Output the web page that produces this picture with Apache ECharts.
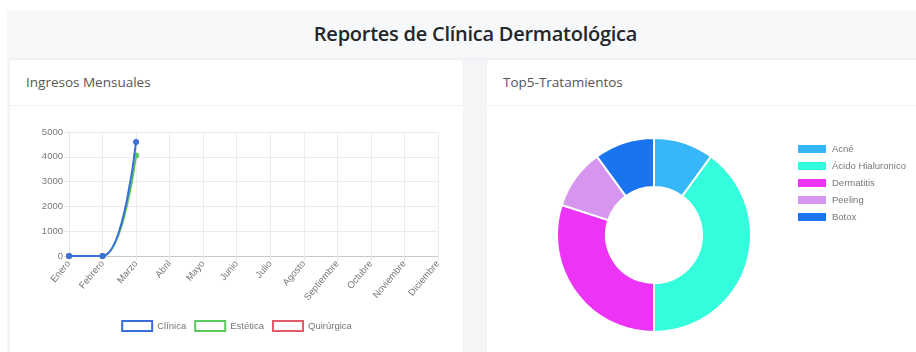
<!DOCTYPE html>
<html lang="es">
<head>
<meta charset="utf-8">
<title>Reportes de Clínica Dermatológica</title>
<script src="https://cdn.jsdelivr.net/npm/echarts@6/dist/echarts.min.js"></script>
<style>
  html, body { margin: 0; padding: 0; width: 916px; height: 352px; overflow: hidden; background: #ffffff; font-family: "Open Sans", sans-serif; }
  .page { position: absolute; left: 7px; top: 10px; width: 909px; height: 342px; background: #f4f5f7; }
  .header { position: absolute; left: 7px; top: 10px; width: 937px; height: 48px; background: #f7f8fa; border-bottom: 1px solid #eceef1; }
  .header h1 { margin: 0; text-align: center; font-size: 20px; font-weight: 600; line-height: 48px; color: #23272b; letter-spacing: -0.25px; }
  .card { position: absolute; top: 60px; height: 300px; background: #fff; border-radius: 4px; box-shadow: 0 0 2px rgba(0,0,0,0.06); }
  .card .head { height: 45px; border-bottom: 1px solid #eef0f2; padding-left: 16px; line-height: 45px; font-size: 13.5px; color: #555; }
  #left { left: 10px; width: 453px; }
  #right { left: 487px; width: 440px; }
  .chart { position: absolute; top: 106px; height: 246px; }
  #lineChart { left: 10px; width: 453px; }
  #pieChart { left: 487px; width: 429px; }
</style>
</head>
<body>
<div class="page"></div>
<div class="header"><h1>Reportes de Clínica Dermatológica</h1></div>
<div class="card" id="left"><div class="head">Ingresos Mensuales</div></div>
<div class="card" id="right"><div class="head">Top5-Tratamientos</div></div>
<div class="chart" id="lineChart"></div>
<div class="chart" id="pieChart"></div>
<script>
// Monthly income by area
const months = ['Enero', 'Febrero', 'Marzo', 'Abril', 'Mayo', 'Junio', 'Julio', 'Agosto', 'Septiembre', 'Octubre', 'Noviembre', 'Diciembre'];
const clinica = [0, 0, 4600];
const estetica = [0, 0, 4050];
const quirurgica = [0, 0];
const incomeTicks = [0, 1000, 2000, 3000, 4000, 5000];

// Top 5 treatments
const treatments = ['Acné', 'Ácido Hialuronico', 'Dermatitis', 'Peeling', 'Botox'];
const treatmentCounts = [1, 4, 3, 1, 1];
const treatmentColors = ['#36b7f9', '#33fddd', '#ec33f6', '#d695ee', '#1b74ef'];

const lineColors = { 'Clínica': '#3a6fd9', 'Estética': '#5cc95c', 'Quirúrgica': '#e05a6a' };
const axisText = { color: '#777', fontSize: 9.5, fontFamily: 'Liberation Sans, Arial, sans-serif' };

const lineChart = echarts.init(document.getElementById('lineChart'));
function lineSeries(name, data, z) {
  return {
    name: name, type: 'line', data: data, z: z,
    smooth: 0.4, symbol: 'circle', symbolSize: 6,
    lineStyle: { width: 2, color: lineColors[name] },
    itemStyle: { color: lineColors[name] }
  };
}
lineChart.setOption({
  animation: false,
  grid: { left: 59, right: 25, top: 26, bottom: 96 },
  legend: {
    left: 'center', top: 209,
    itemWidth: 30, itemHeight: 10, itemGap: 8, icon: 'rect',
    textStyle: axisText,
    data: ['Clínica', 'Estética', 'Quirúrgica'].map(n => ({
      name: n, itemStyle: { color: '#ffffff', borderColor: lineColors[n], borderWidth: 2 }
    }))
  },
  xAxis: {
    type: 'category', data: months, boundaryGap: false,
    axisLine: { lineStyle: { color: '#c8c8c8' } },
    axisTick: { show: true, length: 5, lineStyle: { color: '#e6e6e6' } },
    splitLine: { show: true, lineStyle: { color: '#ececec' } },
    axisLabel: Object.assign({ rotate: 50, margin: 6, interval: 0 }, axisText)
  },
  yAxis: {
    type: 'value', min: incomeTicks[0], max: incomeTicks[incomeTicks.length - 1], interval: 1000,
    axisLine: { show: true, lineStyle: { color: '#e6e6e6' } },
    axisTick: { show: true, length: 5, lineStyle: { color: '#e6e6e6' } },
    splitLine: { show: true, lineStyle: { color: '#ececec' } },
    axisLabel: Object.assign({ margin: 6, formatter: v => String(v) }, axisText)
  },
  series: [
    lineSeries('Clínica', clinica, 5),
    lineSeries('Estética', estetica, 4),
    lineSeries('Quirúrgica', quirurgica, 3)
  ]
});

const pieChart = echarts.init(document.getElementById('pieChart'));
pieChart.setOption({
  animation: false,
  color: treatmentColors,
  legend: {
    orient: 'vertical', left: 304, top: 32,
    itemWidth: 30, itemHeight: 10, itemGap: 5, icon: 'rect',
    textStyle: Object.assign({ lineHeight: 11 }, axisText),
    data: treatments
  },
  series: [{
    type: 'pie', center: [167, 129], radius: [48, 97],
    startAngle: 90, clockwise: true,
    label: { show: false }, labelLine: { show: false },
    itemStyle: { borderColor: '#ffffff', borderWidth: 2 },
    emphasis: { disabled: true },
    data: treatments.map((t, i) => ({ name: t, value: treatmentCounts[i] }))
  }]
});
</script>
</body>
</html>
